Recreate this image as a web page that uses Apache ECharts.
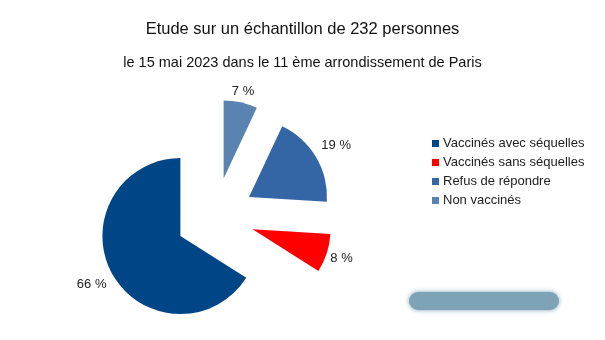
<!DOCTYPE html>
<html>
<head>
<meta charset="utf-8">
<script src="https://cdn.jsdelivr.net/npm/echarts@6/dist/echarts.min.js"></script>
<style>
html,body{margin:0;padding:0;background:#fff;}
#chart{width:605px;height:340px;}
</style>
</head>
<body>
<div id="chart"></div>
<script>
const titleText = 'Etude sur un échantillon de 232 personnes';
const subtitleText = 'le 15 mai 2023 dans le 11 ème arrondissement de Paris';
const categories = ['Vaccinés avec séquelles', 'Vaccinés sans séquelles', 'Refus de répondre', 'Non vaccinés'];
const percentages = [66, 8, 19, 7];
const colors = ['#004586', '#ff0000', '#3465a4', '#5983b0'];

const FONT = '"Liberation Sans", Arial, sans-serif';
// label placement heuristic (distance of label centre beyond the slice edge)
const LABEL_GAP = -11.1;
const LABEL_KW = 2;
const LABEL_KH = 2.68;

const chart = echarts.init(document.getElementById('chart'), null, {renderer: 'canvas'});
chart.setOption({
  animation: false,
  backgroundColor: '#ffffff',
  color: colors,
  title: [
    {text: titleText, left: 'center', top: 21, padding: 0,
     textStyle: {fontFamily: FONT, fontSize: 16.5, fontWeight: 'normal', color: '#111'}},
    {text: subtitleText, left: 'center', top: 55, padding: 0,
     textStyle: {fontFamily: FONT, fontSize: 14.5, fontWeight: 'normal', color: '#111'}}
  ],
  legend: {
    orient: 'vertical',
    left: 432, top: 137,
    padding: 0,
    itemWidth: 7, itemHeight: 7, itemGap: 6,
    icon: 'rect',
    selectedMode: false,
    textStyle: {fontFamily: FONT, fontSize: 13, color: '#222', padding: [0, 0, 0, -1]},
    data: categories
  },
  graphic: [{
    type: 'rect', silent: true,
    shape: {x: 409, y: 292, width: 150, height: 18, r: 9},
    style: {fill: '#7ea3b6', shadowBlur: 5, shadowColor: '#7ea3b6'}
  }],
  series: [{
    type: 'pie',
    center: [215, 217],
    radius: 78,
    startAngle: 90,
    clockwise: false,
    selectedMode: 'multiple',
    selectedOffset: 39.5,
    avoidLabelOverlap: false,
    label: {
      show: true, position: 'outside',
      fontFamily: FONT, fontSize: 13, color: '#222',
      formatter: p => p.value + ' %'
    },
    labelLine: {show: true, length: 10, length2: 6, lineStyle: {opacity: 0, width: 0}},
    labelLayout: function (params) {
      const pts = params.labelLinePoints;
      if (!pts || pts.length < 2) return {};
      const vx = pts[1][0] - pts[0][0], vy = pts[1][1] - pts[0][1];
      const len = Math.hypot(vx, vy) || 1;
      const ux = vx / len, uy = vy / len;
      const r = params.labelRect;
      const hw = r.width / 2, hh = r.height / 2;
      const d = LABEL_GAP + LABEL_KW * hw * Math.abs(ux) + LABEL_KH * hh * Math.abs(uy);
      const tx = pts[0][0] + ux * d, ty = pts[0][1] + uy * d;
      return {dx: tx - (r.x + hw), dy: ty - (r.y + hh)};
    },
    emphasis: {disabled: true},
    itemStyle: {borderWidth: 0},
    data: categories.map((name, i) => ({name: name, value: percentages[i], selected: true}))
  }]
});
</script>
</body>
</html>
